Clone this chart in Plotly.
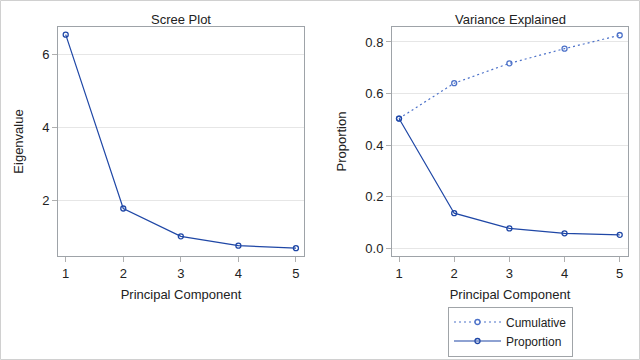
import plotly.graph_objects as go

components = [1, 2, 3, 4, 5]
eigenvalues = [6.54, 1.77, 1.005, 0.75, 0.68]
proportion = [0.503, 0.136, 0.077, 0.058, 0.052]
cumulative = [0.503, 0.640, 0.717, 0.774, 0.826]

DARK = "#1f47a6"
LIGHT = "#4d72c9"
FRAME = "#9ea3a8"
GRID = "#e6e6e6"
FONT = "Liberation Sans, Arial, sans-serif"

fig = go.Figure()

fig.add_trace(go.Scatter(
    x=components, y=eigenvalues, mode="lines+markers",
    line=dict(color=DARK, width=1.2),
    marker=dict(symbol="circle-open", size=5, color=DARK, line=dict(width=1.3)),
    xaxis="x", yaxis="y", showlegend=False))

fig.add_trace(go.Scatter(
    x=components, y=cumulative, mode="lines+markers", name="Cumulative",
    line=dict(color=LIGHT, width=1.2, dash="2px,3px"),
    marker=dict(symbol="circle-open", size=5, color=LIGHT, line=dict(width=1.3)),
    xaxis="x2", yaxis="y2"))

fig.add_trace(go.Scatter(
    x=components, y=proportion, mode="lines+markers", name="Proportion",
    line=dict(color=DARK, width=1.2),
    marker=dict(symbol="circle-open", size=5, color=DARK, line=dict(width=1.3)),
    xaxis="x2", yaxis="y2"))

common_x = dict(showline=True, mirror=True, linecolor=FRAME, linewidth=1,
                ticks="outside", ticklen=5, tickcolor="#b0b0b0", automargin=False,
                showgrid=False, zeroline=False, tickvals=components,
                tickfont=dict(size=13, color="#222"),
                title=dict(text="Principal Component", font=dict(size=13, color="#222"), standoff=10))
common_y = dict(showline=True, mirror=True, linecolor=FRAME, linewidth=1,
                ticks="outside", ticklen=5, tickcolor="#b0b0b0", automargin=False,
                showgrid=True, gridcolor=GRID, zeroline=False,
                tickfont=dict(size=13, color="#222"))

fig.update_layout(
    width=640, height=360,
    margin=dict(l=0, r=0, t=0, b=0, autoexpand=False),
    paper_bgcolor="white", plot_bgcolor="white",
    font=dict(family=FONT, color="#222"),
    xaxis=dict(domain=[58/640, 304/640], range=[0.866, 5.14], anchor="y", **common_x),
    yaxis=dict(domain=[1-256/360, 1-27/360], range=[0.466, 6.75], dtick=2, tick0=0,
               anchor="x",
               title=dict(text="Eigenvalue", font=dict(size=13, color="#222"), standoff=15),
               **common_y),
    xaxis2=dict(domain=[392/640, 628/640], range=[0.873, 5.15], anchor="y2", **common_x),
    yaxis2=dict(domain=[1-256/360, 1-27/360], range=[-0.030, 0.858], dtick=0.2, tick0=0,
                tickformat=".1f", anchor="x2",
                title=dict(text="Proportion", font=dict(size=13, color="#222"), standoff=15),
                **common_y),
    legend=dict(x=448/640, y=1-331.5/360, xanchor="left", yanchor="middle",
                bordercolor="#a0a4a8", borderwidth=1, bgcolor="white",
                font=dict(size=12, color="#222"), tracegroupgap=0,
                itemwidth=47),
    annotations=[
        dict(text="Scree Plot", x=181/640, y=1-19/360, xref="paper", yref="paper",
             showarrow=False, font=dict(size=13, color="#222"), xanchor="center", yanchor="middle"),
        dict(text="Variance Explained", x=510.5/640, y=1-19/360, xref="paper", yref="paper",
             showarrow=False, font=dict(size=13, color="#222"), xanchor="center", yanchor="middle"),
    ],
    shapes=[dict(type="rect", xref="paper", yref="paper",
                 x0=0.5/640, x1=1-0.5/640, y0=0.5/360, y1=1-0.5/360,
                 line=dict(color="#d0d0d0", width=1))],
)

fig.write_html("out.html", config={"displayModeBar": False},
               post_script="document.body.style.margin='0';document.body.style.overflow='hidden';")
